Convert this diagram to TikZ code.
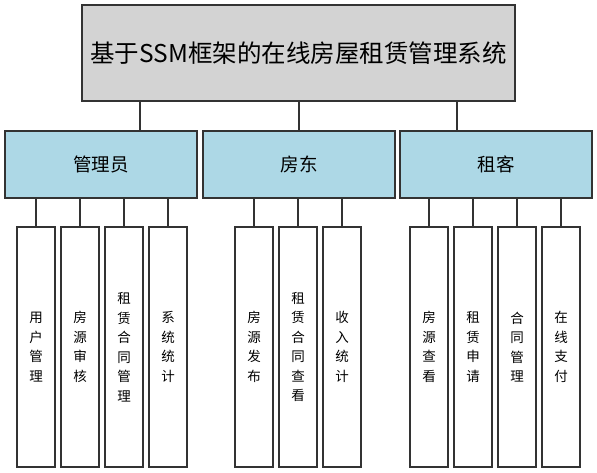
\documentclass[tikz,border=0pt]{standalone}
\usepackage{fontspec}
\setmainfont{Noto Sans CJK SC}
\definecolor{topgray}{HTML}{D3D3D3}
\definecolor{midblue}{HTML}{ADD8E6}
\definecolor{edge}{HTML}{333333}
\begin{document}
\begin{tikzpicture}[x=1pt,y=-1pt,
  box/.style={draw=edge,line width=1.1pt,inner sep=0pt,outer sep=0pt,anchor=north west},
  topbox/.style={box,fill=topgray,minimum width=433pt,minimum height=96pt,font=\fontsize{24.5}{28}\selectfont},
  midbox/.style={box,fill=midblue,minimum width=192pt,minimum height=67pt,font=\fontsize{18.5}{22}\selectfont},
  leaf/.style={box,fill=white,minimum width=38pt,minimum height=240pt,align=center,font=\fontsize{13.5}{19.5}\selectfont},
  link/.style={draw=edge,line width=1.1pt}]
\useasboundingbox (0,0) rectangle (597,473);
% top
\node[topbox] (top) at (82,5) {基于SSM框架的在线房屋租赁管理系统};
% middle
\node[midbox] (m1) at (5,131) {管理员};
\node[midbox] (m2) at (203,131) {房东};
\node[midbox] (m3) at (400,131) {租客};
\coordinate (c1) at (140,101);
\coordinate (c2) at (299,101);
\coordinate (c3) at (457,101);
\draw[link] (c1) -- (c1 |- m1.north);
\draw[link] (c2) -- (c2 |- m2.north);
\draw[link] (c3) -- (c3 |- m3.north);
% leaves
\node[leaf] (a1) at (17,227) {用\\户\\管\\理};
\node[leaf] (a2) at (61,227) {房\\源\\审\\核};
\node[leaf] (a3) at (105,227) {租\\赁\\合\\同\\管\\理};
\node[leaf] (a4) at (149,227) {系\\统\\统\\计};
\node[leaf] (b1) at (235,227) {房\\源\\发\\布};
\node[leaf] (b2) at (279,227) {租\\赁\\合\\同\\查\\看};
\node[leaf] (b3) at (323,227) {收\\入\\统\\计};
\node[leaf] (d1) at (410,227) {房\\源\\查\\看};
\node[leaf] (d2) at (454,227) {租\\赁\\申\\请};
\node[leaf] (d3) at (498,227) {合\\同\\管\\理};
\node[leaf] (d4) at (542,227) {在\\线\\支\\付};
\foreach \n in {a1,a2,a3,a4}{\draw[link] (\n.north) -- (\n.north |- m1.south);}
\foreach \n in {b1,b2,b3}{\draw[link] (\n.north) -- (\n.north |- m2.south);}
\foreach \n in {d1,d2,d3,d4}{\draw[link] (\n.north) -- (\n.north |- m3.south);}
\end{tikzpicture}
\end{document}
